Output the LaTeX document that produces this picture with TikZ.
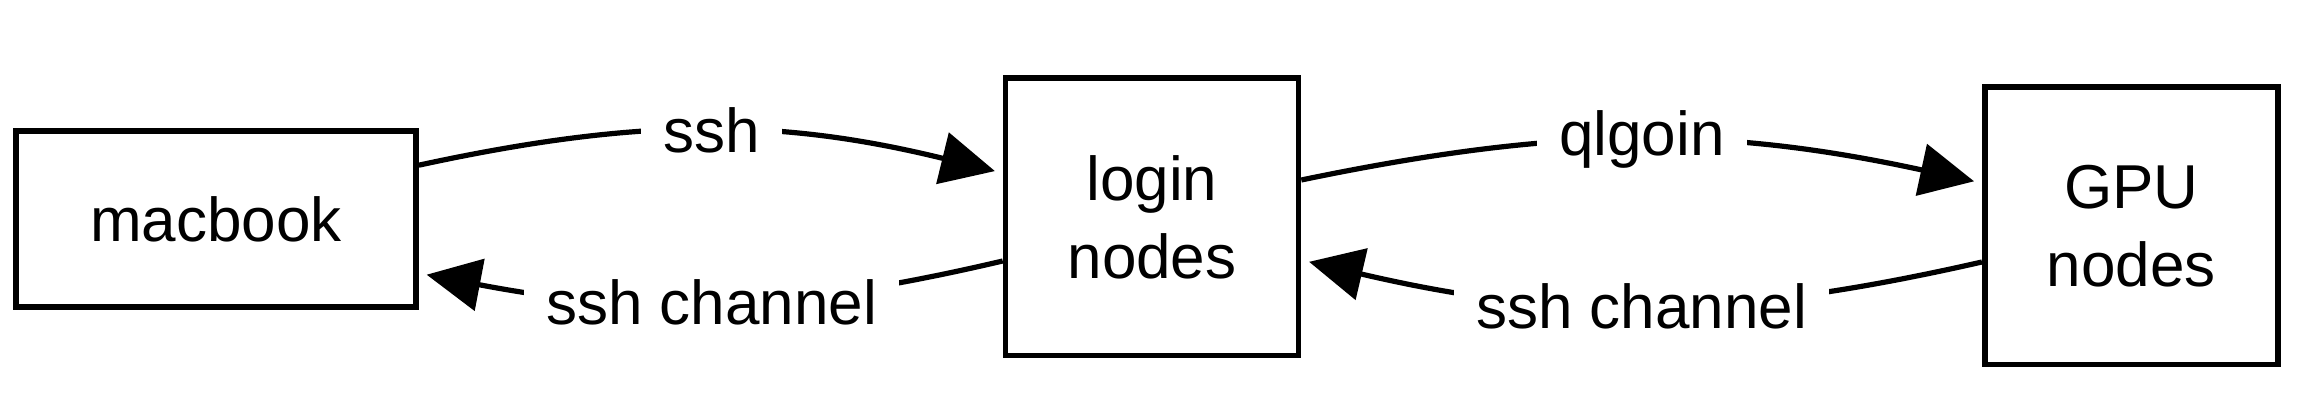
\documentclass[tikz,border=0pt]{standalone}
\usepackage{fontspec}
\setmainfont{Liberation Sans}
\usetikzlibrary{positioning,arrows.meta}

\begin{document}
\begin{tikzpicture}[
  every node/.style={font=\fontsize{31}{39}\selectfont},
  box/.style={rectangle, draw, line width=2.8pt, align=center,
    minimum width=146.5pt, minimum height=138.7pt},
  link/.style={line width=2.6pt, -{Triangle[length=27pt,width=26pt]},
    shorten >=4pt},
  lbl/.style={fill=white, inner xsep=11pt, inner ysep=1pt}
]
  \useasboundingbox (0pt,0pt) rectangle (1149pt,-200pt);

  \node[box, minimum width=200pt, minimum height=88pt] (macbook)
    at (108pt,-109.6pt) {macbook};
  \node[box] (login) at (576pt,-108.5pt) {login\\nodes};
  \node[box] (gpu) at (1065.6pt,-113pt) {GPU\\nodes};

  % macbook <-> login
  \draw[link] ([yshift=27pt]macbook.east) to[bend left=13]
    node[lbl]{ssh} ([yshift=22pt]login.west);
  \draw[link] ([yshift=-22pt]login.west) to[bend left=12]
    node[lbl]{ssh channel} ([yshift=-27pt]macbook.east);

  % login <-> GPU
  \draw[link] ([yshift=18.5pt]login.east) to[bend left=12]
    node[lbl]{qlgoin} ([yshift=21.5pt]gpu.west);
  \draw[link] ([yshift=-18pt]gpu.west) to[bend left=13]
    node[lbl]{ssh channel} ([yshift=-21.5pt]login.east);
\end{tikzpicture}
\end{document}
